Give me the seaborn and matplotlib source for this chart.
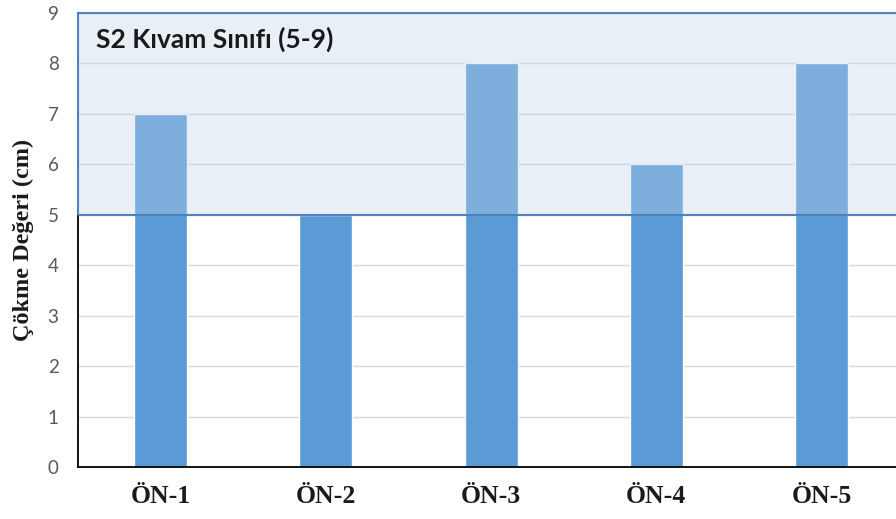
import matplotlib
matplotlib.use("Agg")
import matplotlib.pyplot as plt
import seaborn as sns
import pandas as pd
from matplotlib.patches import Rectangle

samples = ["ÖN-1", "ÖN-2", "ÖN-3", "ÖN-4", "ÖN-5"]
slump_cm = [7, 5, 8, 6, 8]
class_low, class_high = 5, 9
class_label = "S2 Kıvam Sınıfı (5-9)"
y_ticks = list(range(0, 10))

df = pd.DataFrame({"sample": samples, "slump": slump_cm})

sns.set_theme(style="white")
plt.rcParams["font.family"] = ["Lato", "DejaVu Sans"]

fig = plt.figure(figsize=(8.96, 5.19), dpi=100)
ax = fig.add_axes([0.087, 0.1002, 0.913, 0.875])

sns.barplot(data=df, x="sample", y="slump", color="#5B9BD5", saturation=1,
            width=0.32, ax=ax, zorder=2)

# slump class band, semi-transparent over the bars
ax.axhspan(class_low, class_high, color=(190/255, 210/255, 235/255),
           alpha=0.354, zorder=3, linewidth=0)
ax.add_patch(Rectangle((-0.5, class_low), 5.0, class_high - class_low,
                       fill=False, edgecolor="#4F81BD", linewidth=1.5,
                       zorder=4, clip_on=False))

ax.text(-0.39, 8.47, class_label, fontsize=19, fontweight="bold",
        family=["Lato", "DejaVu Sans"], color="#1a1a1a", va="center",
        ha="left", zorder=5)

ax.set_xlim(-0.5, 4.45)
ax.set_ylim(0, 9)
ax.set_yticks(y_ticks)
ax.yaxis.grid(True, color="#D9D9D9", linewidth=1.0, zorder=0)
ax.set_axisbelow(True)

for s in ["top", "right"]:
    ax.spines[s].set_visible(False)
for s in ["left", "bottom"]:
    ax.spines[s].set_color("black")
    ax.spines[s].set_linewidth(1.3)

ax.tick_params(axis="both", length=0)
ax.tick_params(axis="y", labelsize=13.5, labelcolor="#595959", pad=14)
ax.tick_params(axis="x", pad=13)
for lbl in ax.get_xticklabels():
    lbl.set_fontfamily(["Liberation Serif", "DejaVu Serif"])
    lbl.set_fontweight("bold")
    lbl.set_fontsize(18.5)
    lbl.set_color("#1a1a1a")

ax.set_xlabel("")
ax.set_ylabel("Çökme Değeri (cm)", fontsize=17.5, fontweight="bold",
              family=["Liberation Serif", "DejaVu Serif"], color="#1a1a1a",
              labelpad=10)

fig.savefig("out.png", dpi=100)
